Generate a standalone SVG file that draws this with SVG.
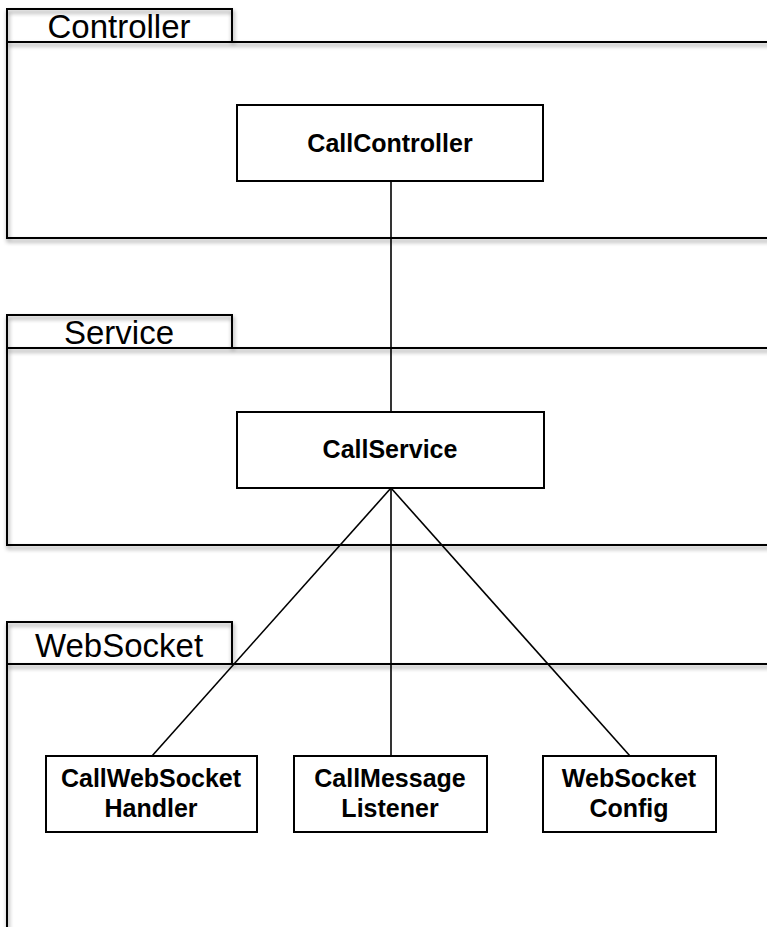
<svg xmlns="http://www.w3.org/2000/svg" width="767" height="927" viewBox="0 0 767 927">
  <style>
    .frame { fill: none; stroke: #000; stroke-width: 2; }
    .tab-label { font-family: "Liberation Sans", Arial, sans-serif; font-size: 33px; text-anchor: middle; fill: #000; }
    .node rect { fill: #fff; stroke: #000; stroke-width: 2; }
    .node text { font-family: "Liberation Sans", Arial, sans-serif; font-size: 25px; font-weight: bold; text-anchor: middle; fill: #000; }
    .conn { stroke: #000; stroke-width: 1.6; fill: none; }
  </style>
  <defs>
    <filter id="shadow" x="-5%" y="-5%" width="115%" height="120%">
      <feDropShadow dx="1" dy="3" stdDeviation="2" flood-color="#000" flood-opacity="0.45"/>
    </filter>
  </defs>
  <rect width="767" height="927" fill="#fff"/>

  <!-- packages: tab + body frame with a soft drop shadow, label on top -->
  <g id="pkg-controller">
    <g filter="url(#shadow)">
      <rect class="frame" x="7" y="9" width="225" height="33"/>
      <rect class="frame" x="7" y="42" width="800" height="196"/>
    </g>
    <text class="tab-label" x="119" y="38">Controller</text>
  </g>
  <g id="pkg-service">
    <g filter="url(#shadow)">
      <rect class="frame" x="7" y="315" width="225" height="33"/>
      <rect class="frame" x="7" y="348" width="800" height="197"/>
    </g>
    <text class="tab-label" x="119" y="344">Service</text>
  </g>
  <g id="pkg-websocket">
    <g filter="url(#shadow)">
      <rect class="frame" x="7" y="622" width="225" height="42"/>
      <rect class="frame" x="7" y="664" width="800" height="300"/>
    </g>
    <text class="tab-label" x="119" y="657">WebSocket</text>
  </g>

  <!-- connectors -->
  <g id="connectors">
    <line class="conn" x1="391" y1="181" x2="391" y2="412"/>
    <line class="conn" x1="391" y1="488" x2="152" y2="756"/>
    <line class="conn" x1="391" y1="488" x2="391" y2="756"/>
    <line class="conn" x1="391" y1="488" x2="630" y2="756"/>
  </g>

  <!-- nodes -->
  <g id="node-callcontroller" class="node">
    <rect x="237" y="105" width="306" height="76"/>
    <text x="390" y="152">CallController</text>
  </g>
  <g id="node-callservice" class="node">
    <rect x="237" y="412" width="307" height="76"/>
    <text x="390" y="458">CallService</text>
  </g>
  <g id="node-callwebsockethandler" class="node">
    <rect x="46" y="756" width="211" height="76"/>
    <text x="151" y="787">CallWebSocket</text>
    <text x="151" y="817">Handler</text>
  </g>
  <g id="node-callmessagelistener" class="node">
    <rect x="294" y="756" width="193" height="76"/>
    <text x="390" y="787">CallMessage</text>
    <text x="390" y="817">Listener</text>
  </g>
  <g id="node-websocketconfig" class="node">
    <rect x="543" y="756" width="173" height="76"/>
    <text x="629" y="787">WebSocket</text>
    <text x="629" y="817">Config</text>
  </g>
</svg>
